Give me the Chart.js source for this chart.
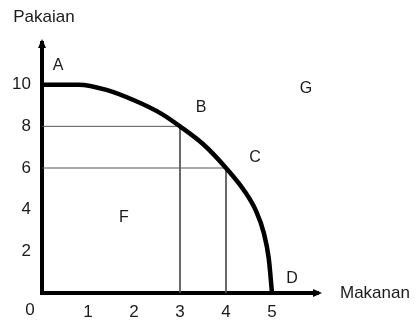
<!DOCTYPE html>
<html>
<head>
<meta charset="utf-8">
<script src="https://cdn.jsdelivr.net/npm/chart.js@4/dist/chart.umd.min.js"></script>
<style>
  html, body { margin: 0; padding: 0; background: #fff; }
  #wrap { width: 419px; height: 320px; }
</style>
</head>
<body>
<div id="wrap"><canvas id="ppf"></canvas></div>
<script>
// kurva kemungkinan produksi (Makanan vs Pakaian)
const curveX = [0, 0.8, 1.4, 2.0, 2.6, 3, 3.5, 4, 4.4, 4.65, 4.82, 4.93, 5];
const curveY = [10, 10, 9.75, 9.25, 8.6, 8, 7.15, 6, 4.9, 3.95, 2.9, 1.65, 0];

// titik-titik pada kurva
const pointNames = ['A', 'B', 'C', 'D'];
const pointX = [0, 3, 4, 5];
const pointY = [10, 8, 6, 0];

// garis bantu dari titik B dan C
const guideB = [[0, 8], [3, 8], [3, 0]];
const guideC = [[0, 6], [4, 6], [4, 0]];

// label daerah
const regionNames = ['F', 'G'];
const regionX = [1.78, 5.74];
const regionY = [3.6, 9.8];

const xTicks = [1, 2, 3, 4, 5];
const yTicks = [2, 4, 6, 8, 10];
const xTitle = 'Makanan';
const yTitle = 'Pakaian';

const FONT = '"Liberation Sans", Arial, sans-serif';
const INK = '#1a1a1a';
// geseran label titik (px)
const labelOffsets = [[16, -19], [21, -19], [29, -10], [20, -14]];

const textPlugin = {
    id: 'ppfText',
    afterDraw(chart) {
        const ctx = chart.ctx;
        const xs = chart.scales.x;
        const ys = chart.scales.y;
        const x0 = xs.getPixelForValue(0);
        const y0 = ys.getPixelForValue(0);
        const top = chart.chartArea.top;
        const right = chart.chartArea.right;
        ctx.save();

        // ujung panah sumbu
        ctx.fillStyle = '#000';
        ctx.beginPath();
        ctx.moveTo(x0, top - 4);
        ctx.lineTo(x0 - 4, top + 5);
        ctx.lineTo(x0 + 4, top + 5);
        ctx.closePath();
        ctx.fill();
        ctx.beginPath();
        ctx.moveTo(right + 4, y0);
        ctx.lineTo(right - 5, y0 - 4);
        ctx.lineTo(right - 5, y0 + 4);
        ctx.closePath();
        ctx.fill();

        ctx.fillStyle = INK;
        ctx.font = '16px ' + FONT;
        ctx.textAlign = 'center';
        ctx.textBaseline = 'middle';
        pointNames.forEach((n, i) => {
            ctx.fillText(n,
                xs.getPixelForValue(pointX[i]) + labelOffsets[i][0],
                ys.getPixelForValue(pointY[i]) + labelOffsets[i][1]);
        });
        regionNames.forEach((n, i) => {
            ctx.fillText(n, xs.getPixelForValue(regionX[i]), ys.getPixelForValue(regionY[i]));
        });

        ctx.font = '17px ' + FONT;
        ctx.fillText('0', x0 - 12, y0 + 17);
        ctx.fillText(yTitle, 44, 17);
        ctx.textAlign = 'left';
        ctx.fillText(xTitle, 340, y0);
        ctx.restore();
    }
};

const toPts = arr => arr.map(p => ({ x: p[0], y: p[1] }));

new Chart(document.getElementById('ppf').getContext('2d'), {
    type: 'line',
    data: {
        datasets: [
            {
                data: curveX.map((x, i) => ({ x: x, y: curveY[i] })),
                borderColor: '#000',
                borderWidth: 4.5,
                pointRadius: 0,
                cubicInterpolationMode: 'monotone',
                clip: false
            },
            {
                data: toPts(guideB),
                borderColor: '#555',
                borderWidth: 1,
                pointRadius: 0,
                tension: 0
            },
            {
                data: toPts(guideC),
                borderColor: '#555',
                borderWidth: 1,
                pointRadius: 0,
                tension: 0
            }
        ]
    },
    options: {
        responsive: true,
        maintainAspectRatio: false,
        animation: false,
        layout: { padding: { top: 43, right: 101, left: 0, bottom: 0 } },
        plugins: { legend: { display: false }, tooltip: { enabled: false } },
        scales: {
            x: {
                type: 'linear',
                min: 0,
                max: 6,
                afterFit: s => { s.height = 27; },
                afterBuildTicks: s => { s.ticks = xTicks.map(v => ({ value: v })); },
                grid: { display: false, drawTicks: false },
                border: { display: true, color: '#000', width: 4 },
                ticks: { color: INK, font: { family: FONT, size: 17 }, padding: 9 }
            },
            y: {
                type: 'linear',
                min: 0,
                max: 12,
                afterFit: s => { s.width = 42; },
                afterBuildTicks: s => { s.ticks = yTicks.map(v => ({ value: v })); },
                grid: { display: false, drawTicks: false },
                border: { display: true, color: '#000', width: 4 },
                ticks: { color: INK, font: { family: FONT, size: 17 }, padding: 11 }
            }
        }
    },
    plugins: [textPlugin]
});
</script>
</body>
</html>
